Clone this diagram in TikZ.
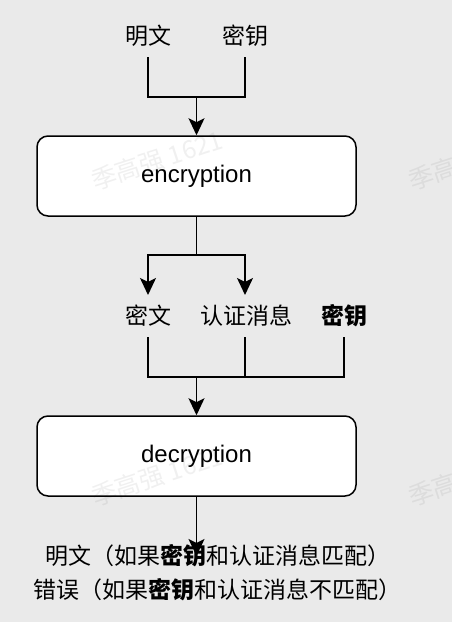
\documentclass[tikz,border=0pt]{standalone}
\usepackage{fontspec}
\setmainfont{Noto Sans CJK SC}
\newfontfamily\latfont{Liberation Sans}
\usetikzlibrary{arrows.meta}
\definecolor{bg}{HTML}{EAEAEA}
\tikzset{
  lbl/.style={inner sep=0pt, font=\fontsize{23}{27}\selectfont},
  proc/.style={draw, line width=1.5pt, rounded corners=11pt, fill=white,
    minimum width=319pt, minimum height=80pt, inner sep=0pt,
    font=\latfont\fontsize{24}{28}\selectfont},
  conn/.style={line width=1.5pt},
  arr/.style={conn, -{Stealth[length=17pt,width=16pt,inset=4pt]}},
  wmark/.style={text=black, text opacity=0.06, rotate=18, inner sep=0pt,
    font=\fontsize{25}{28}\selectfont}
}
\begin{document}
\begin{tikzpicture}[x=1pt,y=-1pt]
\fill[bg] (0,0) rectangle (452,622);
\useasboundingbox (0,0) rectangle (452,622);

\node[proc] (enc) at (196.5,176) {encryption};
\node[proc] (dec) at (196.5,456) {decryption};

\node[lbl] (pt) at (148,36) {明文};
\node[lbl] (k1) at (245,36) {密钥};
\node[lbl] (ct) at (148,316) {密文};
\node[lbl] (mac) at (246,316) {认证消息};
\node[lbl] (k2) at (344,316) {\bfseries 密钥};
\node[lbl, align=center, font=\fontsize{23}{34}\selectfont] (out) at (218,573)
  {明文（如果\textbf{密钥}和认证消息匹配）\\错误（如果\textbf{密钥}和认证消息不匹配）};

\coordinate (j1) at (196.5,97);
\coordinate (j2) at (196.5,255);
\coordinate (j3) at (196.5,377);
\coordinate (tip) at (196.5,556);

\draw[conn] ([yshift=-21pt]pt.center) |- (j1) -| ([yshift=-21pt]k1.center);
\draw[arr] (j1) -- (enc.north);

\draw[conn] (enc.south) -- (j2);
\draw[arr] (j2) -| ([yshift=21pt]ct.center);
\draw[arr] (j2) -| ([xshift=-1pt,yshift=21pt]mac.center);

\draw[conn] ([yshift=-21pt]ct.center) |- (j3) -| ([yshift=-21pt]k2.center);
\draw[conn] ([xshift=-1pt,yshift=-21pt]mac.center) -- ([xshift=-1pt]mac.center |- j3);
\draw[arr] (j3) -- (dec.north);

\draw[arr] (dec.south) -- (tip);

\node[wmark] (w1) at (157,160) {季高强 1621};
\node[wmark] (w2) at (474,160) {季高强 1621};
\node[wmark] (w3) at (157,476) {季高强 1621};
\node[wmark] (w4) at (474,476) {季高强 1621};
\end{tikzpicture}
\end{document}
